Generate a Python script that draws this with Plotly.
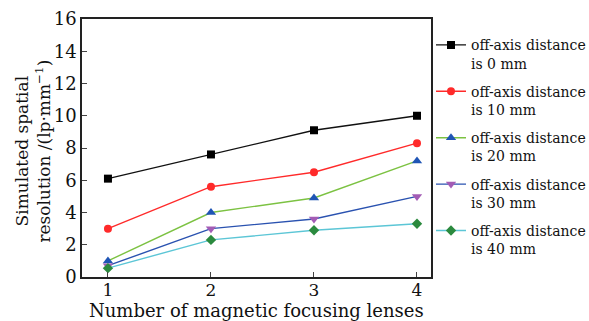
import plotly.graph_objects as go

lenses = [1, 2, 3, 4]
res_0mm = [6.1, 7.6, 9.1, 10.0]
res_10mm = [3.0, 5.6, 6.5, 8.3]
res_20mm = [1.0, 4.0, 4.9, 7.2]
res_30mm = [0.7, 3.0, 3.6, 5.0]
res_40mm = [0.55, 2.3, 2.9, 3.3]
names = ["off-axis distance<br>is 0 mm", "off-axis distance<br>is 10 mm",
         "off-axis distance<br>is 20 mm", "off-axis distance<br>is 30 mm",
         "off-axis distance<br>is 40 mm"]
x_title = "Number of magnetic focusing lenses"
y_title = "Simulated spatial<br>resolution /(lp·mm<sup>−1</sup>)"

series = [res_0mm, res_10mm, res_20mm, res_30mm, res_40mm]
line_colors = ["#111111", "#ff2a2a", "#7cc242", "#2a52b0", "#5cc6d6"]
marker_colors = ["#000000", "#ff2a2a", "#1f55b5", "#a35cb5", "#2b8a3e"]
symbols = ["square", "circle", "triangle-up", "triangle-down", "diamond"]
sizes = [8, 8, 9, 9, 8]

FONT = "DejaVu Serif, Liberation Serif, serif"

fig = go.Figure()
for i, ys in enumerate(series):
    fig.add_trace(go.Scatter(
        x=lenses, y=ys, mode="lines+markers", name=names[i],
        legendgroup=str(i),
        line=dict(color=line_colors[i], width=1.4),
        marker=dict(symbol=symbols[i], size=sizes[i], color=marker_colors[i]),
    ))

fig.update_layout(
    width=589, height=321,
    margin=dict(l=82, r=158, t=19, b=44, autoexpand=False),
    paper_bgcolor="white", plot_bgcolor="white",
    font=dict(family=FONT, color="#111111", size=18),
    legend=dict(x=1.0, y=0.96, xanchor="left", yanchor="top",
                font=dict(family=FONT, size=14), tracegroupgap=7,
                valign="top", bgcolor="rgba(0,0,0,0)", itemwidth=30),
    showlegend=True,
)
# axis titles drawn as annotations for exact placement
fig.add_annotation(text=x_title, xref="paper", yref="paper", x=0.5, y=0,
                   xanchor="center", yanchor="middle", yshift=-33, showarrow=False,
                   borderpad=0, font=dict(family=FONT, size=18, color="#111111"))
fig.add_annotation(text=y_title, xref="paper", yref="paper", x=0, y=0.488,
                   xanchor="center", yanchor="middle", xshift=-48.5, textangle=-90,
                   showarrow=False, font=dict(family=FONT, size=17, color="#111111"))

fig.update_xaxes(
    range=[0.748, 4.136], tickvals=lenses, ticks="inside", ticklen=5,
    showline=True, linecolor="#222222", linewidth=1.5, mirror=True,
    showgrid=False, zeroline=False, tickfont=dict(size=17), automargin=False,
    ticklabelstandoff=-3,
)
fig.update_yaxes(
    range=[0, 16], tickvals=list(range(0, 17, 2)), ticks="inside", ticklen=5,
    showline=True, linecolor="#222222", linewidth=1.5, mirror=True,
    showgrid=False, zeroline=False, tickfont=dict(size=18), automargin=False,
)

fig.write_html("out.html")
